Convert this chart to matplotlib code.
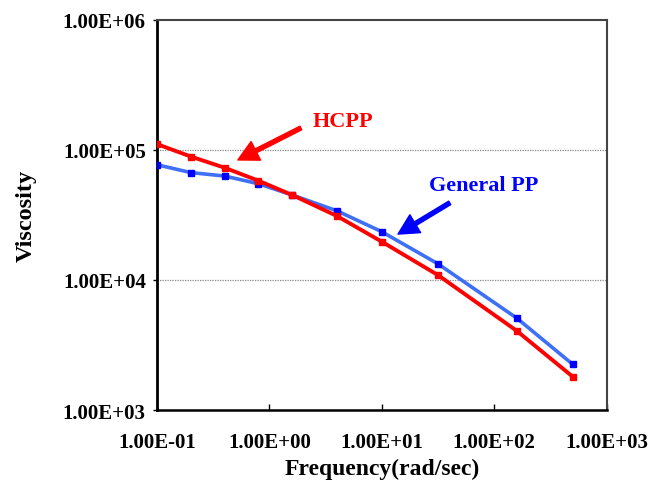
import matplotlib
matplotlib.use("Agg")
import matplotlib.pyplot as plt
from matplotlib.ticker import FuncFormatter, FixedLocator, NullLocator

freq = [0.1, 0.2, 0.4, 0.8, 1.6, 4.0, 10.0, 31.6, 158.0, 500.0]
hcpp = [1.11e5, 8.9e4, 7.3e4, 5.8e4, 4.5e4, 3.1e4, 1.97e4, 1.09e4, 4.07e3, 1.8e3]
general_pp = [7.7e4, 6.7e4, 6.3e4, 5.5e4, 4.5e4, 3.4e4, 2.35e4, 1.33e4, 5.1e3, 2.24e3]
xticks = [0.1, 1, 10, 100, 1000]
yticks = [1e3, 1e4, 1e5, 1e6]

plt.rcParams['font.family'] = ['Liberation Serif', 'DejaVu Serif']
plt.rcParams['font.weight'] = 'bold'

fig = plt.figure(figsize=(6.51, 4.81), dpi=100)
ax = fig.add_axes([0.241, 0.1455, 0.691, 0.811])

ax.set_xscale('log')
ax.set_yscale('log')
ax.set_xlim(0.1, 1000)
ax.set_ylim(1e3, 1e6)

for v in [1e4, 1e5]:
    ax.axhline(v, color='#888888', lw=0.9, ls=(0, (1, 1)), zorder=1)

ax.plot(freq, general_pp, color='#3F6FF5', lw=2.6, marker='s', ms=4.5,
        mfc='#0000FF', mec='#0000FF', zorder=3, solid_joinstyle='round')
ax.plot(freq, hcpp, color='#FF0000', lw=2.8, marker='s', ms=4.5,
        mfc='#FF0000', mec='#FF0000', zorder=4, solid_joinstyle='round')

ax.xaxis.set_major_locator(FixedLocator(xticks))
ax.yaxis.set_major_locator(FixedLocator(yticks))
ax.xaxis.set_minor_locator(NullLocator())
ax.yaxis.set_minor_locator(NullLocator())
fmt = FuncFormatter(lambda v, p: f"{v:.2E}")
ax.xaxis.set_major_formatter(fmt)
ax.yaxis.set_major_formatter(fmt)
ax.tick_params(axis='x', direction='in', length=4, width=1, pad=16, labelsize=15)
ax.tick_params(axis='y', direction='out', length=3, width=1, pad=5, labelsize=15)
for lab in ax.get_xticklabels() + ax.get_yticklabels():
    lab.set_fontweight('bold')

ax.spines['left'].set_linewidth(2)
ax.spines['bottom'].set_linewidth(1.8)
ax.spines['top'].set_color('#444444')
ax.spines['right'].set_color('#444444')
ax.spines['top'].set_linewidth(1.5)
ax.spines['right'].set_linewidth(1.5)

ax.set_xlabel('Frequency(rad/sec)', fontsize=17, fontweight='bold', labelpad=4)
ax.set_ylabel('Viscosity', fontsize=17.5, fontweight='bold', labelpad=19)

ax.text(0.413, 0.740, 'HCPP', transform=ax.transAxes, color='#FF0000',
        fontsize=16, fontweight='bold', ha='center', va='center')
ax.annotate('', xy=(0.18, 0.641), xytext=(0.32, 0.723),
            xycoords='axes fraction', textcoords='axes fraction',
            arrowprops=dict(width=2.9, headwidth=15, headlength=14.5,
                            color='#FF0000', shrink=0))
ax.text(0.727, 0.578, 'General PP', transform=ax.transAxes, color='#0000FF',
        fontsize=16, fontweight='bold', ha='center', va='center')
ax.annotate('', xy=(0.536, 0.451), xytext=(0.651, 0.531),
            xycoords='axes fraction', textcoords='axes fraction',
            arrowprops=dict(width=2.9, headwidth=15, headlength=14.5,
                            color='#0000FF', shrink=0))

fig.savefig('out.png', dpi=100)
